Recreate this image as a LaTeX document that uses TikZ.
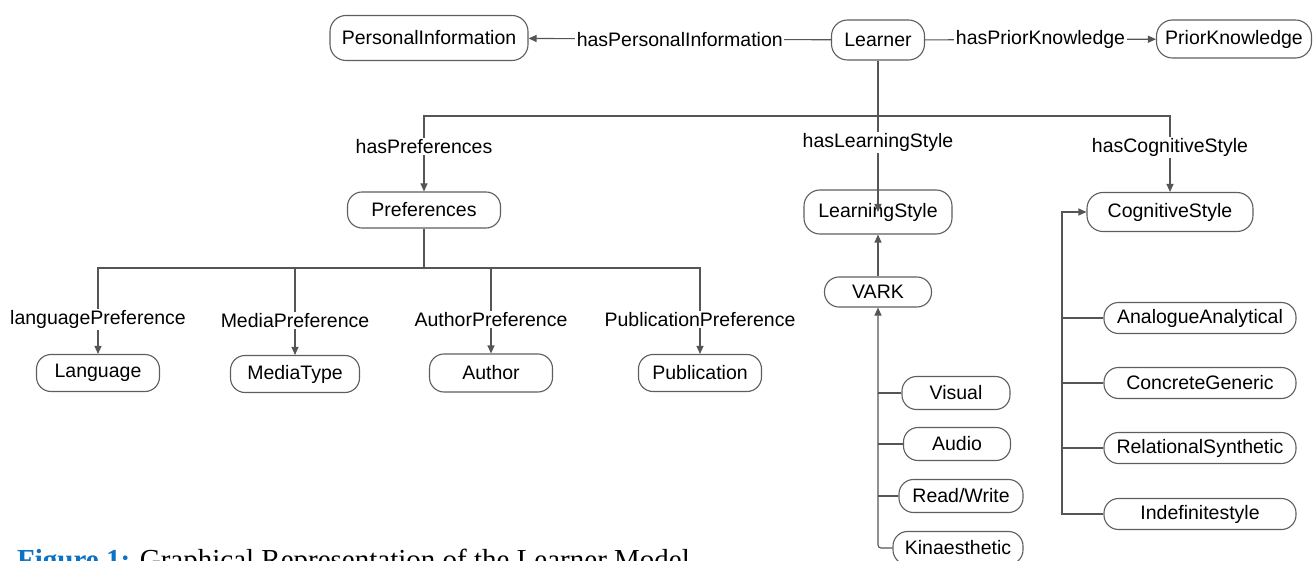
\documentclass[tikz,border=0pt]{standalone}
\usepackage{fontspec}
\setmainfont{Liberation Sans}
\newfontfamily\captionserif{Liberation Serif}
\usepackage{xcolor}
\usepackage{tikz}
\usetikzlibrary{arrows.meta, positioning}
\definecolor{EdgeGray}{HTML}{555555}
\definecolor{BoxGray}{HTML}{5E5E5E}
\definecolor{CaptionBlue}{HTML}{0B72C4}

\begin{document}
\begin{tikzpicture}[
    x=1pt, y=-1pt,
    concept/.style={
        rectangle, rounded corners=14.5pt, draw=BoxGray, fill=white, text=black,
        line width=1.1pt, minimum height=33pt, inner sep=2pt, align=center,
        font=\fontsize{19.5}{21}\selectfont
    },
    relation/.style={
        fill=white, text=black, inner sep=1.5pt, font=\fontsize{19.5}{21}\selectfont
    },
    link/.style={
        line width=1.1pt, color=EdgeGray
    },
    arrow/.style={
        link, -{Triangle[length=8pt, width=7pt]}
    }
]
    \useasboundingbox (0,0) rectangle (1314,561);
    \clip (0,0) rectangle (1314,561);

    % Top row
    \node[concept, minimum width=198pt, minimum height=45pt, rounded corners=16pt] (pinfo) at (429,38) {PersonalInformation};
    \node[concept, minimum width=93pt, minimum height=40pt, rounded corners=16pt] (learner) at (878,40) {Learner};
    \node[concept, minimum width=155pt, minimum height=38pt, rounded corners=16pt] (prior) at (1234,39) {PriorKnowledge};

    % Second row
    \node[concept, minimum width=153pt, minimum height=36pt] (prefs) at (424,210) {Preferences};
    \node[concept, minimum width=148pt, minimum height=44pt, rounded corners=16pt] (lstyle) at (878,212) {LearningStyle};
    \node[concept, minimum width=166pt, minimum height=39pt, rounded corners=16pt] (cstyle) at (1170,212) {CognitiveStyle};

    % Preferences
    \node[concept, minimum width=123pt, minimum height=37pt] (lang) at (98,373) {Language};
    \node[concept, minimum width=129pt, minimum height=37pt] (media) at (295,374) {MediaType};
    \node[concept, minimum width=123pt, minimum height=38pt] (author) at (491,373) {Author};
    \node[concept, minimum width=123pt, minimum height=37pt] (pub) at (700,373) {Publication};

    % VARK
    \node[concept, minimum width=107pt, minimum height=30pt] (vark) at (878,292) {VARK};
    \node[concept, minimum width=108pt] (visual) at (956,393) {Visual};
    \node[concept, minimum width=107pt] (audio) at (957,444) {Audio};
    \node[concept, minimum width=124pt] (rw) at (961,496) {Read/Write};
    \node[concept, minimum width=130pt] (kin) at (958,548) {Kinaesthetic};

    % Cognitive styles
    \node[concept, minimum width=192pt, minimum height=31pt] (analog) at (1200,318) {AnalogueAnalytical};
    \node[concept, minimum width=192pt, minimum height=31pt] (concrete) at (1200,383) {ConcreteGeneric};
    \node[concept, minimum width=192pt, minimum height=31pt] (relat) at (1200,448) {RelationalSynthetic};
    \node[concept, minimum width=192pt, minimum height=31pt] (indef) at (1200,514) {Indefinitestyle};

    % Junctions
    \coordinate (lbus) at (878,116);
    \coordinate (pbus) at (424,268);
    \coordinate (cbend) at (1062,212);

    % Links
    \draw[arrow] (learner) -- node[relation]{hasPersonalInformation} (pinfo);
    \draw[arrow] (learner) -- node[relation]{hasPriorKnowledge} (prior);

    \draw[link] (learner.south) -- (lbus);
    \draw[arrow] (lbus) -| node[relation, pos=0.7]{hasPreferences} (prefs.north);
    \draw[arrow] (lbus) -- node[relation, pos=0.28]{hasLearningStyle} (lstyle.center);
    \draw[arrow] (lbus) -| node[relation, pos=0.71]{hasCognitiveStyle} (cstyle.north);

    \draw[link] (prefs.south) -- (pbus);
    \draw[arrow] (pbus) -| node[relation, pos=0.8]{languagePreference} (lang.north);
    \draw[arrow] (pbus) -| node[relation, pos=0.8]{MediaPreference} (media.north);
    \draw[arrow] (pbus) -| node[relation, pos=0.8]{AuthorPreference} (author.north);
    \draw[arrow] (pbus) -| node[relation, pos=0.8]{PublicationPreference} (pub.north);

    \draw[arrow] (vark) -- (lstyle);
    \draw[arrow, rounded corners=3pt] (kin.west) -| (vark.south);
    \draw[link] (visual.west) -- (visual.west -| vark.south);
    \draw[link] (audio.west) -- (audio.west -| vark.south);
    \draw[link] (rw.west) -- (rw.west -| vark.south);

    \draw[arrow] (indef.west) -| (cbend) -- (cstyle.west);
    \draw[link] (analog.west) -- (analog.west -| cbend);
    \draw[link] (concrete.west) -- (concrete.west -| cbend);
    \draw[link] (relat.west) -- (relat.west -| cbend);

    % Caption
    \node[anchor=base west, inner sep=0pt, font=\captionserif\fontsize{29}{32}\selectfont] (caption) at (17,569)
        {\textbf{\color{CaptionBlue}Figure 1:} Graphical Representation of the Learner Model};

\end{tikzpicture}
\end{document}
